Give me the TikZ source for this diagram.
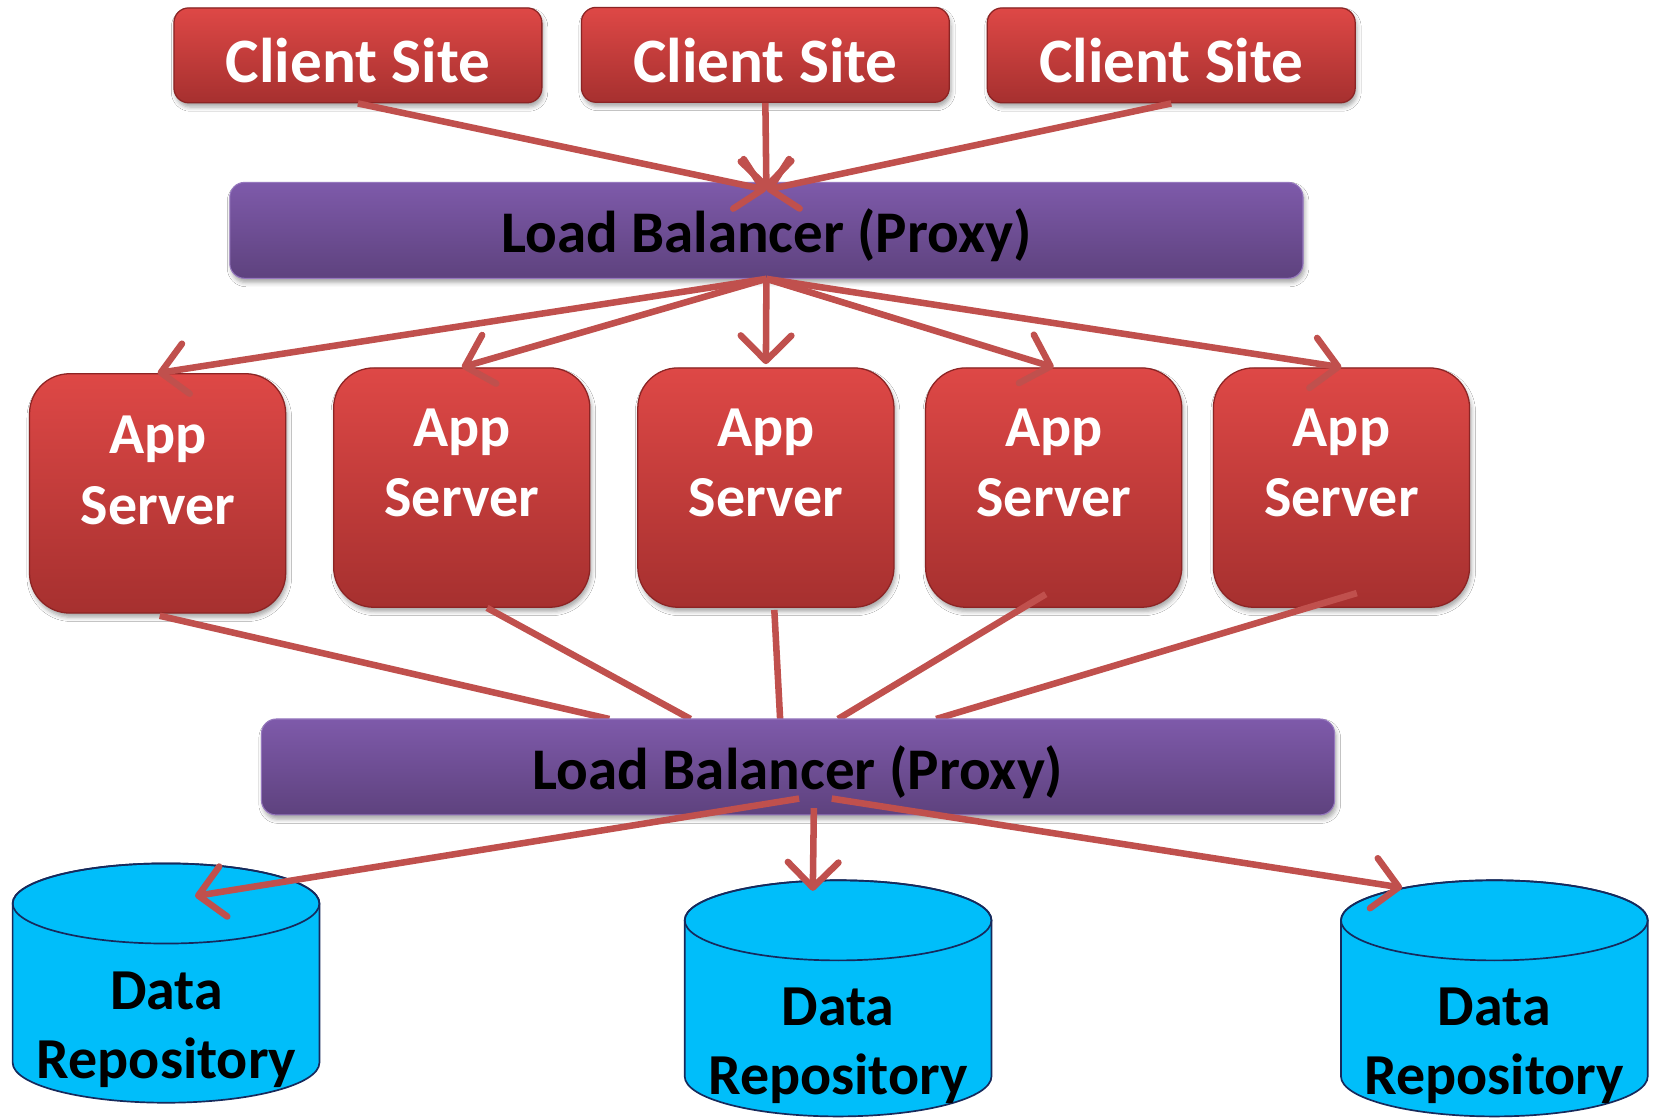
\documentclass[tikz,border=0pt]{standalone}
\usepackage{fontspec}
\setmainfont{Carlito}
\usetikzlibrary{arrows.meta,calc,shadows.blur}

\definecolor{linkred}{RGB}{192,80,77}
\definecolor{boxtop}{RGB}{222,72,70}
\definecolor{boxbot}{RGB}{166,48,47}
\definecolor{boxline}{RGB}{140,36,36}
\definecolor{lbtop}{RGB}{126,90,170}
\definecolor{lbbot}{RGB}{94,66,126}
\definecolor{lbline}{RGB}{150,120,190}
\definecolor{repfill}{RGB}{0,190,250}
\definecolor{repline}{RGB}{22,42,92}

% set a label a little below its natural place, keeping its reported size
\newcommand\lowered[2][2.5pt]{\raisebox{-#1}[\height][\depth]{#2}}

\begin{document}
\begin{tikzpicture}[x=0.5pt,y=-0.5pt,
  redbox/.style={rectangle, draw=boxline, line width=0.6pt,
    top color=boxtop, bottom color=boxbot,
    blur shadow={shadow xshift=0.8pt, shadow yshift=-2pt, shadow opacity=35, shadow blur radius=2pt}},
  site/.style={redbox, rounded corners=7pt, minimum width=174.5pt, minimum height=45pt,
    text=white, font=\bfseries\fontsize{30}{36}\selectfont},
  app/.style={redbox, rounded corners=19pt, minimum width=121.5pt, minimum height=113.5pt},
  applabel/.style={text=white, align=center, font=\bfseries\fontsize{27.5}{33.5}\selectfont},
  balancer/.style={rectangle, rounded corners=7pt, draw=lbline, line width=0.5pt,
    top color=lbtop, bottom color=lbbot, minimum width=509pt, minimum height=45.5pt,
    font=\bfseries\fontsize{28}{33}\selectfont,
    blur shadow={shadow xshift=0.8pt, shadow yshift=-2pt, shadow opacity=35, shadow blur radius=2pt}},
  replabel/.style={align=center, font=\bfseries\fontsize{27.5}{32.5}\selectfont},
  cyl/.style={fill=repfill, draw=repline, line width=0.8pt},
  link/.style={draw=linkred, line width=3.1pt},
  flow/.style={link, -{Straight Barb[length=12pt,width=24pt,round,line width=3.1pt]}},
]
\useasboundingbox[fill=white] (0,0) rectangle (1568,1062);

% client sites
\node[site] (cs1) at (339.5,52.5) {\lowered{Client Site}};
\node[site] (cs2) at (726,52) {\lowered{Client Site}};
\node[site] (cs3) at (1111,52.5) {\lowered{Client Site}};

% front load balancer
\node[balancer] (lb1) at (727,218.5) {\lowered{Load Balancer (Proxy)}};

% application servers
\node[app] (app1) at (149.5,468) {};
\node[app] (app2) at (438,462.5) {};
\node[app] (app3) at (726.5,462.5) {};
\node[app] (app4) at (999.5,462.5) {};
\node[app] (app5) at (1272.5,462.5) {};
\node[applabel] (app1t) at (150,446) {App\\Server};
\node[applabel] (app2t) at (438,439) {App\\Server};
\node[applabel] (app3t) at (726.5,439) {App\\Server};
\node[applabel] (app4t) at (999.5,439) {App\\Server};
\node[applabel] (app5t) at (1272.5,439) {App\\Server};

% data repositories
\foreach \cx/\ty/\by in {157.5/857/1008, 795/873/1021, 1417.5/873/1021}{
  \path[cyl] (\cx-145.5,\by) arc[start angle=180,end angle=360,x radius=72.75pt,y radius=19pt]
    -- (\cx+145.5,\ty) arc[start angle=0,end angle=180,x radius=72.75pt,y radius=19pt] -- cycle;
  \draw[repline, line width=0.8pt] (\cx,\ty) ellipse[x radius=72.75pt, y radius=19pt];
}
\node[replabel] (rep1) at (158,977) {Data\\Repository};
\node[replabel] (rep2) at (795,992) {Data\\Repository};
\node[replabel] (rep3) at (1417.5,992) {Data\\Repository};

% clients to front balancer
\coordinate (lb1in) at (727,180);
\draw[flow] (cs1.south) -- (lb1in);
\draw[flow] (cs2.south) -- (lb1in);
\draw[flow] (cs3.south) -- (lb1in);

% front balancer to servers
\draw[flow] (lb1.south) -- (app1.north);
\draw[flow] (lb1.south) -- (app2.north);
\draw[flow] (lb1.south) -- ($(app3.north)+(0,-3)$);
\draw[flow] (lb1.south) -- (app4.north);
\draw[flow] (lb1.south) -- (app5.north);

% back load balancer position, used by the links below
\coordinate (lb2c) at (757,727.5);
\coordinate (lb2top) at (757,682);

% servers to back balancer
\draw[link] ($(app1.south)+(2,2)$) -- ($(lb2top)+(-179,0)$);
\draw[link] ($(app2.south)+(24,0)$) -- ($(lb2top)+(-102,0)$);
\draw[link] ($(app3.south)+(8,2)$) -- ($(lb2top)+(-17,0)$);
\draw[link] ($(app4.south)+(-7.5,-13)$) -- ($(lb2top)+(38,0)$);
\draw[link] ($(app5.south)+(14.5,-14)$) -- ($(lb2top)+(131,0)$);

% back load balancer
\node[balancer] (lb2) at (lb2c) {\lowered{Load Balancer (Proxy)}};

% back balancer to repositories
\coordinate (rep1in) at (185,850);
\coordinate (rep2in) at (771,845);
\coordinate (rep3in) at (1330,842);
\draw[flow] ($(lb2.south)+(1,-16)$) -- (rep1in);
\draw[flow] ($(lb2.south)+(15,-7)$) -- (rep2in);
\draw[flow] ($(lb2.south)+(32,-16)$) -- (rep3in);
\end{tikzpicture}
\end{document}
